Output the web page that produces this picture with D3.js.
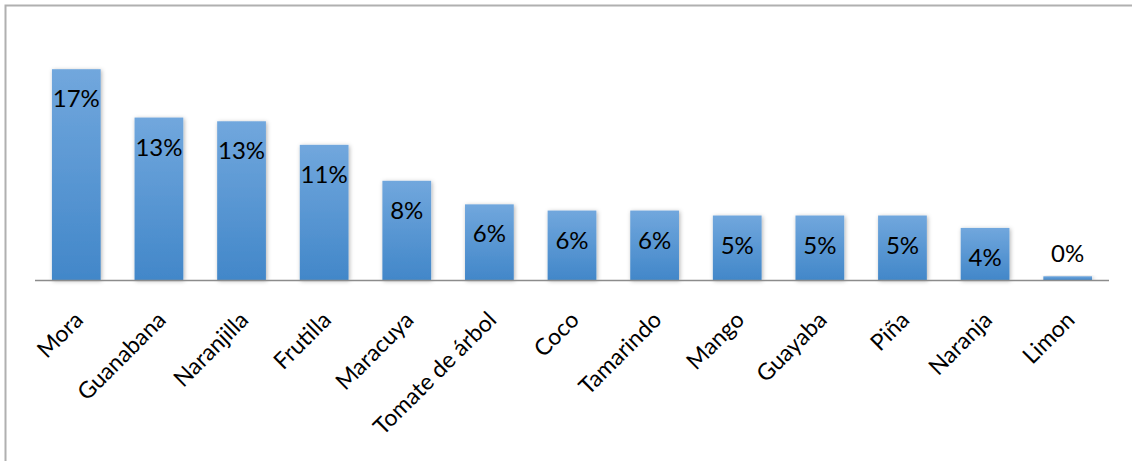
<!DOCTYPE html>
<html>
<head>
<meta charset="utf-8">
<script src="https://cdn.jsdelivr.net/npm/d3@7"></script>
<style>
    body { margin: 0; background: #fff; }
    .bar-label { font-family: Lato, "Open Sans", sans-serif; font-size: 24px; fill: #000; }
    .cat-label { font-family: Lato, "Open Sans", sans-serif; font-size: 23px; fill: #000; }
</style>
</head>
<body>
<div id="chart"></div>
<script>
const categories = ['Mora', 'Guanabana', 'Naranjilla', 'Frutilla', 'Maracuya', 'Tomate de árbol',
    'Coco', 'Tamarindo', 'Mango', 'Guayaba', 'Piña', 'Naranja', 'Limon'];
const shares = [0.170, 0.131, 0.128, 0.109, 0.080, 0.061, 0.056, 0.056, 0.052, 0.052, 0.052, 0.042, 0.003];

const width = 1132, height = 461;
const margin = {top: 32, right: 23, bottom: 181, left: 35};

const svg = d3.select('#chart').append('svg')
    .attr('width', width)
    .attr('height', height);

// chart frame (right and bottom edges run off the picture)
svg.append('rect')
    .attr('x', 5.5).attr('y', 5.5)
    .attr('width', width + 10).attr('height', height + 10)
    .attr('fill', 'none')
    .attr('stroke', '#b0b0b0')
    .attr('stroke-width', 2);

const defs = svg.append('defs');
const grad = defs.append('linearGradient')
    .attr('id', 'barGrad')
    .attr('x1', 0).attr('y1', 0).attr('x2', 0).attr('y2', 1);
grad.append('stop').attr('offset', '0%').attr('stop-color', '#71a7dd');
grad.append('stop').attr('offset', '100%').attr('stop-color', '#4287c9');

const shadow = defs.append('filter')
    .attr('id', 'shadow')
    .attr('x', '-20%').attr('y', '-10%').attr('width', '140%').attr('height', '120%');
shadow.append('feDropShadow')
    .attr('dx', 1).attr('dy', 1).attr('stdDeviation', 2)
    .attr('flood-color', '#000').attr('flood-opacity', 0.3);

const plotW = width - margin.left - margin.right;
const plotH = height - margin.top - margin.bottom;

const x = d3.scaleBand()
    .domain(categories)
    .range([0, plotW])
    .paddingInner(0.41)
    .paddingOuter(0.205);

const y = d3.scaleLinear()
    .domain([0, 0.20])
    .range([plotH, 0]);

const chart = svg.append('g')
    .attr('transform', `translate(${margin.left},${margin.top})`);

const data = categories.map((c, i) => ({cat: c, v: shares[i]}));

chart.selectAll('.bar')
    .data(data)
    .join('rect')
    .attr('class', 'bar')
    .attr('x', d => x(d.cat))
    .attr('y', d => y(d.v))
    .attr('width', x.bandwidth())
    .attr('height', d => plotH - y(d.v))
    .attr('fill', 'url(#barGrad)')
    .attr('filter', 'url(#shadow)');

// baseline axis
chart.append('line')
    .attr('x1', 0).attr('x2', plotW)
    .attr('y1', plotH + 0.5).attr('y2', plotH + 0.5)
    .attr('stroke', '#8c8c8c')
    .attr('stroke-width', 1.5);

const fmt = d3.format('.0%');

chart.selectAll('.bar-label')
    .data(data)
    .join('text')
    .attr('class', 'bar-label')
    .attr('text-anchor', 'middle')
    .attr('x', d => x(d.cat) + x.bandwidth() / 2)
    .attr('y', d => (plotH - y(d.v)) > 40 ? y(d.v) + 38 : y(d.v) - 14)
    .text(d => fmt(d.v));

chart.selectAll('.cat-label')
    .data(data)
    .join('text')
    .attr('class', 'cat-label')
    .attr('text-anchor', 'end')
    .attr('transform', d => `translate(${x(d.cat) + x.bandwidth() / 2 - 3},${plotH + 30}) rotate(-45)`)
    .attr('dy', '0.7em')
    .text(d => d.cat);
</script>
</body>
</html>
